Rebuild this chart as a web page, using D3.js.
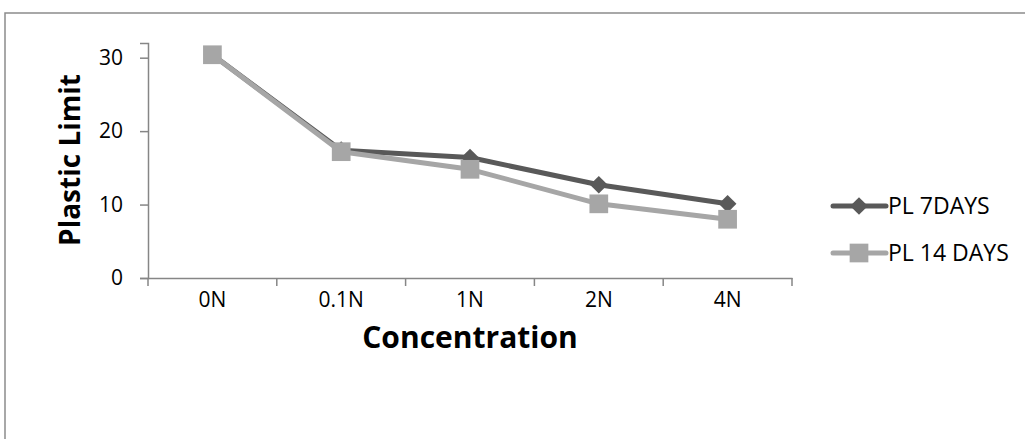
<!DOCTYPE html>
<html>
<head>
<meta charset="utf-8">
<script src="https://cdn.jsdelivr.net/npm/d3@7"></script>
<style>
  body { margin: 0; background: #fff; }
  text { font-family: "Open Sans", "Noto Sans", sans-serif; fill: #000; }
</style>
</head>
<body>
<div id="chart"></div>
<script>
var width = 1025, height = 439;

// DATA
var categories = ["0N", "0.1N", "1N", "2N", "4N"];
var seriesNames = ["PL 7DAYS", "PL 14 DAYS"];
var pl7 = [30.4, 17.4, 16.4, 12.7, 10.1];
var pl14 = [30.4, 17.2, 14.8, 10.1, 8.0];
var yTicks = [0, 10, 20, 30];

var colors = ["#595959", "#A6A6A6"];

var plot = {left: 148, right: 792, top: 43, bottom: 278};

var svg = d3.select("#chart").append("svg")
    .attr("width", width)
    .attr("height", height);

// chart frame (top + left edges visible)
svg.append("path")
    .attr("d", "M5,439 V13 H1025")
    .attr("fill", "none")
    .attr("stroke", "#8c8c8c")
    .attr("stroke-width", 1.5);

// SCALES
var x = d3.scaleBand()
    .domain(categories)
    .range([plot.left, plot.right]);

var y = d3.scaleLinear()
    .domain([0, 32])
    .range([plot.bottom, plot.top]);

// AXES
var yAxis = svg.append("g")
    .attr("transform", "translate(" + plot.left + ",0)")
    .call(d3.axisLeft(y).tickValues(yTicks).tickSize(8).tickPadding(17));

var xAxis = svg.append("g")
    .attr("transform", "translate(0," + plot.bottom + ")")
    .call(d3.axisBottom(x).tickSize(0).tickPadding(14));

// category boundary ticks like excel
xAxis.selectAll("line.bound")
    .data(d3.range(categories.length + 1))
    .enter().append("line")
    .attr("class", "bound")
    .attr("x1", function(i) { return plot.left + i * x.step(); })
    .attr("x2", function(i) { return plot.left + i * x.step(); })
    .attr("y1", 0)
    .attr("y2", 8);

svg.selectAll(".domain, .tick line, line.bound")
    .attr("stroke", "#868686")
    .attr("stroke-width", 1.5);

yAxis.selectAll(".tick text").style("font-size", "21px").attr("fill", "#000");
xAxis.selectAll(".tick text").style("font-size", "21px").attr("fill", "#000");

// axis titles
svg.append("text")
    .attr("transform", "translate(80,160) rotate(-90)")
    .attr("text-anchor", "middle")
    .style("font-size", "28px")
    .style("font-weight", "bold")
    .text("Plastic Limit");

svg.append("text")
    .attr("x", 470)
    .attr("y", 348)
    .attr("text-anchor", "middle")
    .style("font-size", "30px")
    .style("font-weight", "bold")
    .text("Concentration");

// LINES
var line = d3.line()
    .x(function(d, i) { return x(categories[i]) + x.bandwidth() / 2; })
    .y(function(d) { return y(d); });

var allSeries = [pl7, pl14];
var diamond = d3.symbol().type(d3.symbolDiamond2).size(200);
var square = d3.symbol().type(d3.symbolSquare).size(350);

allSeries.forEach(function(vals, s) {
  svg.append("path")
      .attr("d", line(vals))
      .attr("fill", "none")
      .attr("stroke", colors[s])
      .attr("stroke-width", 5)
      .attr("stroke-linejoin", "round");
});

allSeries.forEach(function(vals, s) {
  svg.selectAll("path.mk" + s)
      .data(vals)
      .enter().append("path")
      .attr("class", "mk" + s)
      .attr("transform", function(d, i) {
        return "translate(" + (x(categories[i]) + x.bandwidth() / 2) + "," + y(d) + ")";
      })
      .attr("d", s === 0 ? diamond : square)
      .attr("fill", colors[s]);
});

// LEGEND
var legend = svg.selectAll("g.legend")
    .data(seriesNames)
    .enter().append("g")
    .attr("class", "legend")
    .attr("transform", function(d, i) { return "translate(833," + (206 + i * 47) + ")"; });

legend.append("line")
    .attr("x1", 0).attr("x2", 53)
    .attr("stroke", function(d, i) { return colors[i]; })
    .attr("stroke-width", 5)
    .attr("stroke-linecap", "round");

legend.append("path")
    .attr("transform", "translate(26,0)")
    .attr("d", function(d, i) { return i === 0 ? diamond() : square(); })
    .attr("fill", function(d, i) { return colors[i]; });

legend.append("text")
    .attr("x", 55)
    .attr("dy", "0.35em")
    .style("font-size", "23px")
    .text(function(d) { return d; });
</script>
</body>
</html>
